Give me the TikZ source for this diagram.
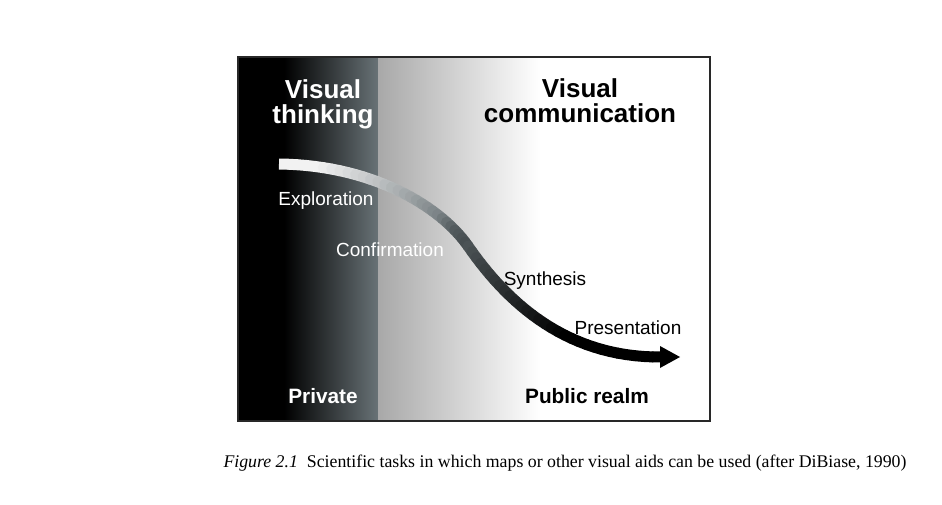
\documentclass[tikz,border=0pt]{standalone}
\usepackage{fontspec}
\setmainfont{Liberation Serif}
\setsansfont{Liberation Sans}
\usetikzlibrary{positioning}
\definecolor{slate}{RGB}{104,114,118}
\definecolor{framegray}{RGB}{40,40,40}
\tikzset{
  title/.style={font=\sffamily\bfseries\fontsize{26}{26}\selectfont, anchor=base},
  task/.style={font=\sffamily\fontsize{19}{20}\selectfont, anchor=base},
  realm/.style={font=\sffamily\bfseries\fontsize{20.8}{22}\selectfont, anchor=base},
  band/.style={line width=11pt},
}

\begin{document}
\begin{tikzpicture}[x=1pt,y=-1pt]
  \useasboundingbox (0,0) rectangle (942,505);
  \coordinate (NW) at (238,57);
  \coordinate (SE) at (710,421);

  % the two realms
  \fill [black] (238,57) rectangle (284,421);
  \shade [left color=black, right color=slate] (284,57) rectangle (378,421);
  \shade [left color=black!34, right color=white] (378,57) rectangle (540,421);
  \draw [framegray, line width=1.6pt] (NW) rectangle (SE);

  % the curve, white to black
  \coordinate (s0) at (279,164);
  \coordinate (m0) at (468,246);
  \coordinate (e0) at (662,357);

  \foreach \k in {0,...,29}{
    \pgfmathsetmacro\ta{\k/30}
    \pgfmathsetmacro\tb{(\k+1)/30}
    \pgfmathtruncatemacro\m{min(100,max(0,\k-4)*4.6)}
    \pgfmathtruncatemacro\d{max(0,(\k-22)*4)}
    \ifnum\k=0 \def\capsty{butt}\else\def\capsty{round}\fi
    \path (s0) .. controls (372,165) and (440,206) .. (m0)
      coordinate[pos=\ta] (u) coordinate[pos=\tb] (v);
    \draw [band, line cap=\capsty, draw=black!\d!slate!\m!white!95!black] (u) -- (v);
  }
  \foreach \k in {0,...,29}{
    \pgfmathsetmacro\ta{\k/30}
    \pgfmathsetmacro\tb{(\k+1)/30}
    \pgfmathtruncatemacro\n{min(100,28+\k*4)}
    \path (m0) .. controls (508,304) and (568,358) .. (e0)
      coordinate[pos=\ta] (u) coordinate[pos=\tb] (v);
    \draw [band, line cap=round, draw=black!\n!slate] (u) -- (v);
  }
  \fill [black] (660,346) -- (680,357) -- (660,368) -- cycle;

  % headings
  \node [title, white] (vt1) at (323,99) {Visual};
  \node [title, white] (vt2) at (323,124) {thinking};
  \node [title] (vc1) at (580,98) {Visual};
  \node [title] (vc2) at (580,123) {communication};

  % tasks
  \node [task, white] (expl) at (326,205) {Exploration};
  \node [task, white] (conf) at (390,256) {Confirmation};
  \node [task] (synt) at (545,285) {Synthesis};
  \node [task] (pres) at (628,334) {Presentation};

  \node [realm, white] (priv) at (323,403) {Private};
  \node [realm] (publ) at (587,403) {Public realm};

  \node [anchor=base, font=\fontsize{17.8}{20}\selectfont] (capt) at (565,467)
    {\textit{Figure 2.1}\ \ Scientific tasks in which maps or other visual aids can be used (after DiBiase, 1990)};
\end{tikzpicture}
\end{document}
